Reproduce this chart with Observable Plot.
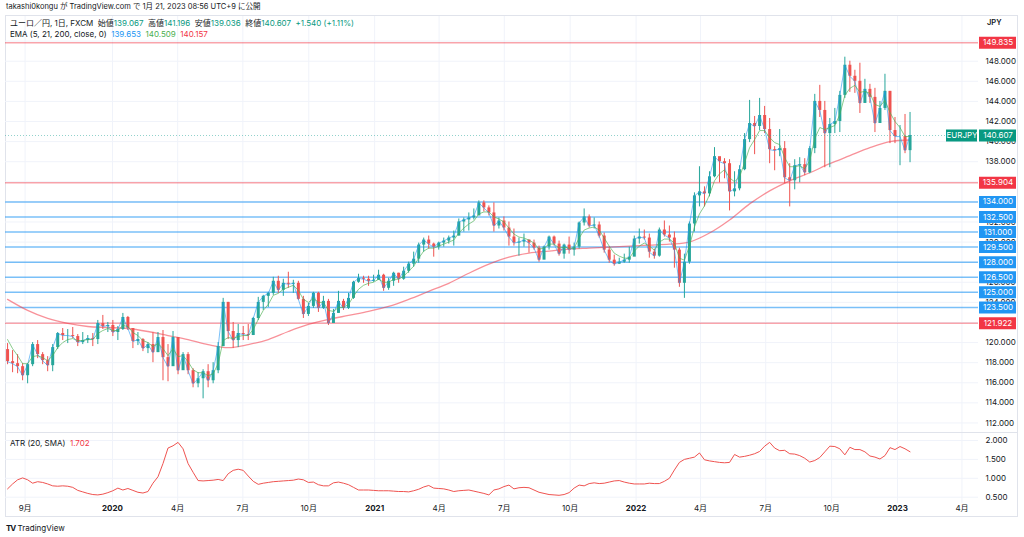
<!DOCTYPE html>
<html><head><meta charset="utf-8">
<script src="https://cdn.jsdelivr.net/npm/d3@7"></script>
<script src="https://cdn.jsdelivr.net/npm/@observablehq/plot@0.6"></script>
<style>
body{margin:0;background:#fff;font-family:Inter,"Noto Sans CJK JP",sans-serif;color:#131722;}
#root{position:relative;width:1024px;height:537px;overflow:hidden;}
.abs{position:absolute;white-space:nowrap;line-height:1;}
.g{color:#089981}
</style></head><body><div id="root"></div>
<script>
// ---- data (weekly) ----
const startMonday = "2019-08-05";
const endDate = "2023-01-21";
const firstOpen = 119.3;
const highs = [119.9,119.2,118.8,117.9,117.9,120.0,120.2,119.0,118.6,119.8,
121.0,121.4,121.3,121.5,120.8,121.0,120.7,120.9,122.2,122.7,
122.0,122.2,121.6,122.9,122.6,121.3,121.0,120.4,120.0,121.0,
121.0,121.2,119.8,121.1,120.5,119.0,119.0,117.4,117.0,117.3,
117.8,118.0,120.0,124.4,124.0,122.0,121.8,121.6,121.8,122.5,
124.5,124.7,125.0,126.5,126.6,126.3,127.0,126.2,126.1,124.6,
123.9,125.0,125.0,124.6,124.3,123.3,125.1,124.3,124.9,126.1,
126.8,126.6,126.6,126.7,127.2,126.8,126.4,127.0,126.9,127.5,
128.0,129.0,129.9,130.4,130.6,129.9,130.0,130.4,130.6,131.1,
132.3,132.4,132.9,133.3,134.1,134.1,133.6,133.9,132.4,132.5,
132.0,131.3,130.4,130.8,130.2,130.2,129.6,129.6,130.6,130.6,
130.1,129.8,130.5,129.9,132.0,133.3,132.7,132.4,132.0,130.9,
129.5,128.7,128.4,128.8,129.5,130.6,131.3,131.2,130.8,129.3,
131.4,132.1,131.6,131.0,129.4,128.8,132.0,134.9,137.5,135.5,
137.0,139.4,138.4,138.3,138.2,137.0,137.6,140.8,144.1,142.5,
144.3,143.5,142.3,139.5,141.2,140.0,137.8,138.2,138.4,138.3,
139.5,144.7,145.6,144.0,142.3,143.3,145.0,148.4,148.0,147.1,
147.8,146.2,145.7,145.3,144.0,146.7,145.0,142.4,141.6,142.7,
142.9];
const lows = [117.8,117.0,116.9,116.2,115.9,117.6,118.4,117.8,117.1,117.1,
119.3,120.2,119.9,120.4,119.6,119.8,119.9,119.6,119.8,121.3,
121.0,120.6,120.2,121.2,121.2,119.4,119.7,119.1,118.9,118.0,
119.0,116.2,116.1,117.8,116.8,117.3,116.8,115.5,115.5,114.4,
115.5,115.9,116.9,119.6,120.3,119.4,119.5,120.2,120.2,121.0,
122.2,123.2,123.5,124.7,124.9,124.6,125.4,124.9,124.2,122.4,
122.6,123.4,123.0,123.3,121.7,121.9,122.9,123.2,123.3,124.3,
125.9,125.9,125.6,126.0,126.2,125.1,125.2,125.6,125.9,126.2,
126.9,127.5,127.9,129.0,129.3,128.5,129.2,129.5,129.8,129.6,
130.6,131.0,131.1,132.2,132.7,133.0,132.6,131.0,131.3,131.1,
129.6,129.6,128.6,129.5,128.9,129.2,128.0,128.3,129.2,129.6,
128.6,128.3,128.8,128.6,129.3,131.6,131.4,131.3,130.4,128.9,
127.9,127.6,127.8,127.9,127.9,128.6,129.8,130.2,128.4,128.3,
128.5,130.5,130.0,127.4,125.5,124.4,127.8,131.0,133.5,133.5,
134.5,136.4,135.9,136.3,133.1,134.5,135.1,137.1,139.9,138.7,
141.1,140.8,137.8,137.1,138.5,135.8,133.5,135.2,135.9,136.6,
136.8,138.8,142.4,137.4,137.4,140.8,140.9,144.3,144.9,144.8,
142.8,143.8,143.8,140.9,141.9,143.1,139.8,139.8,137.6,138.8,
137.9];
const closes = [118.1,117.9,117.6,116.7,117.8,119.8,118.8,118.2,117.7,119.5,
120.9,120.7,120.7,120.6,120.0,120.2,120.4,120.3,121.9,121.6,
121.7,121.0,121.3,122.5,121.4,120.1,120.3,119.4,119.8,119.0,
120.5,118.5,117.6,120.5,117.2,118.8,117.2,115.9,116.4,117.1,
116.2,117.2,119.6,124.0,121.1,120.2,120.9,120.8,120.7,122.4,
124.0,124.6,124.9,126.1,125.2,125.9,125.8,125.9,124.3,122.8,
123.6,124.9,123.4,124.1,121.9,122.9,124.1,123.4,124.4,126.0,
126.4,126.3,126.1,126.2,126.7,125.4,126.1,126.9,126.3,127.1,
127.8,128.3,129.7,130.2,129.8,129.5,129.9,130.1,130.4,130.6,
132.0,132.2,132.4,132.6,133.9,133.4,132.9,131.6,132.1,131.4,
130.5,129.9,130.0,130.2,129.9,129.4,128.2,129.5,130.5,129.8,
128.8,129.7,129.2,129.5,131.9,132.5,131.6,131.7,130.6,129.2,
128.2,127.8,128.0,128.2,128.5,130.3,130.5,130.4,129.0,128.6,
131.2,130.7,130.4,129.2,125.9,128.0,131.8,134.6,135.0,134.8,
136.5,138.5,138.0,137.8,135.0,135.3,137.2,140.2,141.8,141.5,
142.6,141.2,139.2,139.1,139.3,136.4,136.1,137.6,137.7,136.9,
139.3,144.0,143.1,140.8,141.7,142.0,144.6,147.6,146.5,146.0,
143.8,145.2,144.4,141.8,143.3,145.0,141.1,140.5,140.5,139.1,
140.607];
const ema21 = [120.3,119.4,118.7,117.9,117.9,118.6,118.7,118.5,118.2,118.7,
119.5,120.0,120.3,120.4,120.2,120.2,120.3,120.3,120.9,121.2,
121.4,121.2,121.2,121.7,121.6,121.0,120.7,120.2,120.0,119.6,
119.9,119.4,118.7,119.4,118.6,118.7,118.1,117.3,117.0,117.0,
116.7,116.9,117.9,120.2,120.5,120.4,120.6,120.7,120.7,121.3,
122.3,123.2,123.8,124.7,124.9,125.3,125.5,125.7,125.2,124.3,
124.0,124.4,124.0,124.0,123.2,123.1,123.5,123.5,123.8,124.6,
125.3,125.7,125.9,126.0,126.3,126.0,126.0,126.3,126.3,126.6,
127.1,127.6,128.4,129.1,129.4,129.4,129.6,129.8,130.0,130.2,
130.9,131.4,131.8,132.1,132.8,133.0,133.0,132.5,132.3,132.0,
131.4,130.8,130.5,130.4,130.2,129.9,129.3,129.4,129.8,129.8,
129.4,129.5,129.4,129.4,130.4,131.2,131.4,131.5,131.2,130.4,
129.6,128.9,128.6,128.4,128.4,129.1,129.6,129.9,129.6,129.2,
130.0,130.3,130.3,129.9,128.4,128.2,129.6,131.5,132.8,133.6,
134.7,136.1,136.8,137.2,136.4,136.0,136.5,137.9,139.4,140.2,
141.1,141.1,140.4,139.9,139.7,138.4,137.5,137.5,137.6,137.3,
138.1,140.3,141.4,141.2,141.4,141.6,142.7,144.6,145.3,145.6,
144.9,145.0,144.8,143.7,143.5,144.1,142.9,142.0,141.4,140.5,
140.509];
// EMA 200, one reading every 4 weeks
const ema200Every4 = [124.3,123.2,122.4,121.9,121.6,121.5,121.4,121.1,120.7,120.3,
119.8,119.5,119.8,120.3,121.1,121.8,122.3,122.7,123.1,123.6,
124.3,125.1,125.9,126.9,127.8,128.5,128.9,129.1,129.3,129.4,
129.5,129.6,129.7,129.8,130.0,130.9,132.2,133.8,135.1,136.1,
136.9,137.8,138.6,139.4,140.0,140.157];
const atr = [0.72,0.85,0.96,1.01,0.96,0.87,0.91,0.89,0.85,0.80,
0.79,0.80,0.79,0.76,0.68,0.64,0.60,0.57,0.56,0.58,
0.62,0.67,0.74,0.69,0.73,0.68,0.63,0.61,0.65,0.87,
1.04,1.39,1.80,1.86,1.95,1.78,1.39,1.16,0.94,0.93,
0.94,0.95,0.97,0.94,1.12,1.21,1.24,1.21,1.06,0.92,
0.84,0.87,0.89,0.91,0.92,0.93,0.94,0.95,0.98,0.96,
0.89,0.90,0.83,0.80,0.80,0.88,0.90,0.87,0.83,0.76,
0.69,0.69,0.69,0.68,0.67,0.67,0.67,0.66,0.65,0.65,
0.64,0.67,0.71,0.77,0.81,0.74,0.73,0.72,0.69,0.65,
0.67,0.68,0.69,0.66,0.63,0.60,0.56,0.69,0.72,0.78,
0.82,0.72,0.75,0.76,0.75,0.69,0.63,0.60,0.57,0.56,
0.55,0.57,0.62,0.74,0.82,0.80,0.86,0.88,0.86,0.87,
0.90,0.93,0.94,0.90,0.87,0.85,0.85,0.85,0.87,0.86,
0.86,0.92,1.00,1.22,1.42,1.50,1.53,1.56,1.67,1.49,
1.46,1.44,1.42,1.41,1.42,1.63,1.56,1.58,1.61,1.65,
1.71,1.85,1.95,1.80,1.73,1.74,1.65,1.64,1.60,1.53,
1.43,1.47,1.55,1.70,1.85,1.84,1.78,1.62,1.82,1.76,
1.76,1.70,1.59,1.56,1.51,1.60,1.81,1.76,1.84,1.78,
1.702];
const blueLevels = [134, 132.5, 131, 129.5, 128, 126.5, 125, 123.5];
const redLevels = [149.835, 135.904, 121.922];
// price labels shown on the axis (those fully covered by level labels are omitted)
const priceTicks = [112,114,116,118,120,124,126,130,132,138,140,142,144,146,148];
const priceGrid = [112,114,116,118,120,122,124,126,128,130,132,134,136,138,140,142,144,146,148,150];
const atrTicks = [0.5, 1.0, 1.5, 2.0];
const timeTickDates = ["2019-09-01","2020-01-01","2020-04-01","2020-07-01","2020-10-01","2021-01-01","2021-04-01","2021-07-01","2021-10-01","2022-01-01","2022-04-01","2022-07-01","2022-10-01","2023-01-01","2023-04-01"];
const timeTickLabels = ["9月","2020","4月","7月","10月","2021","4月","7月","10月","2022","4月","7月","10月","2023","4月"];
const lastClose = 140.607;

// ---- build ----
const UP = "#26a69a", DOWN = "#ef5350";
const day = 864e5, t2020 = Date.UTC(2020,0,1), pxPerDay = 785/1096;
const px2date = px => new Date(t2020 + (px - 112) / pxPerDay * day);
const xDomain = [px2date(5), px2date(978)];
const mondays = d3.utcMonday.range(new Date(startMonday), new Date(endDate));
const weeks = mondays.map((m, i) => {
  const open = i === 0 ? firstOpen : closes[i-1];
  return {date: new Date(+m + 2.5*day), open, high: highs[i], low: lows[i], close: closes[i],
          up: closes[i] >= open, ema21: ema21[i], atr: atr[i]};
});
const ema200Data = ema200Every4.map((v, k) => ({date: weeks[Math.min(k*4, weeks.length-1)].date, v}));
const ticks = timeTickDates.map((d, i) => ({date: new Date(d), label: timeTickLabels[i], year: /^\d{4}$/.test(timeTickLabels[i])}));
const FONT = "Inter, 'Noto Sans CJK JP', sans-serif";

const price = Plot.plot({
  width: 1013, height: 416, marginLeft: 0, marginRight: 40, marginTop: 0, marginBottom: 0,
  style: {background: "transparent", fontFamily: FONT, fontSize: "8px", overflow: "visible", color: "#131722"},
  x: {type: "utc", domain: xDomain, axis: null},
  y: {domain: [111.05, 152.45], axis: null},
  marks: [
    Plot.ruleY(priceGrid, {stroke: "#f0f3fa"}),
    Plot.ruleX(ticks, {x: "date", stroke: "#f0f3fa"}),
    Plot.ruleY(blueLevels, {stroke: "#2196f3", strokeOpacity: 0.6, strokeWidth: 1.5}),
    Plot.ruleY(redLevels, {stroke: "#f23645", strokeOpacity: 0.45, strokeWidth: 1.5}),
    Plot.line(ema200Data, {x: "date", y: "v", stroke: "#f23645", strokeOpacity: 0.55, strokeWidth: 1.3, curve: "catmull-rom"}),
    Plot.ruleX(weeks, {x: "date", y1: "low", y2: "high", stroke: d => d.up ? UP : DOWN, strokeWidth: 1}),
    Plot.ruleX(weeks, {x: "date", y1: "open", y2: "close", stroke: d => d.up ? UP : DOWN, strokeWidth: 3}),
    Plot.line(weeks, {x: "date", y: "close", stroke: "#2196f3", strokeOpacity: 0.6, strokeWidth: 1}),
    Plot.line(weeks, {x: "date", y: "ema21", stroke: "#4caf50", strokeOpacity: 0.65, strokeWidth: 1}),
    Plot.ruleY([lastClose], {x1: () => xDomain[0], x2: () => px2date(946), stroke: UP, strokeDasharray: "1,2", strokeOpacity: 0.5}),
    Plot.text(priceTicks, {x: () => px2date(985), y: d => d, text: d => d.toFixed(3), textAnchor: "start", fill: "#131722"}),
    Plot.ruleY(blueLevels, {x1: () => px2date(979), x2: () => px2date(1016), stroke: "#2196f3", strokeWidth: 12}),
    Plot.ruleY(redLevels, {x1: () => px2date(979), x2: () => px2date(1016), stroke: "#f23645", strokeWidth: 12}),
    Plot.ruleY([lastClose], {x1: () => px2date(979), x2: () => px2date(1016), stroke: "#089981", strokeWidth: 12}),
    Plot.ruleY([lastClose], {x1: () => px2date(946), x2: () => px2date(977), stroke: "#089981", strokeWidth: 12}),
    Plot.text([...blueLevels, ...redLevels, lastClose], {x: () => px2date(997.5), y: d => d, text: d => d.toFixed(3), fill: "white"}),
    Plot.text([lastClose], {x: () => px2date(961.5), y: d => d, text: () => "EURJPY", fill: "white"})
  ]
});

const atrPlot = Plot.plot({
  width: 1013, height: 84, marginLeft: 0, marginRight: 40, marginTop: 0, marginBottom: 14,
  style: {background: "transparent", fontFamily: FONT, fontSize: "8px", overflow: "visible", color: "#131722"},
  x: {type: "utc", domain: xDomain, axis: null},
  y: {domain: [0.333, 2.185], axis: null},
  marks: [
    Plot.ruleY(atrTicks, {stroke: "#f0f3fa"}),
    Plot.ruleX(ticks, {x: "date", stroke: "#f0f3fa"}),
    Plot.line(weeks, {x: "date", y: "atr", stroke: "#ef5350", strokeWidth: 1}),
    Plot.text(atrTicks, {x: () => px2date(985), y: d => d, text: d => d.toFixed(3), textAnchor: "start", fill: "#131722"}),
    Plot.text(ticks.filter(t => !t.year), {x: "date", text: "label", frameAnchor: "bottom", dy: 7, fill: "#131722"}),
    Plot.text(ticks.filter(t => t.year), {x: "date", text: "label", frameAnchor: "bottom", dy: 7, fill: "#131722", fontWeight: "bold"})
  ]
});

const root = document.getElementById("root");
function add(html, css) { const d = document.createElement("div"); d.className = "abs"; d.style.cssText = css; d.innerHTML = html; root.appendChild(d); return d; }
add("", "left:5px;top:15px;width:1013px;height:502px;border:1px solid #e0e3eb;box-sizing:border-box;");
add("", "left:5px;top:432px;width:1013px;height:1px;background:#e0e3eb;");
const p1 = document.createElement("div"); p1.style.cssText = "position:absolute;left:5px;top:16px;"; p1.appendChild(price); root.appendChild(p1);
const p2 = document.createElement("div"); p2.style.cssText = "position:absolute;left:5px;top:433px;"; p2.appendChild(atrPlot); root.appendChild(p2);
add("takashi0kongu が TradingView.com で 1月 21, 2023 08:56 UTC+9 に公開", "left:6px;top:3px;font-size:7.5px;");
add('ユーロ／円, 1日, FXCM&nbsp; 始値<span class="g">139.067</span>&nbsp; 高値<span class="g">141.196</span>&nbsp; 安値<span class="g">139.036</span>&nbsp; 終値<span class="g">140.607</span>&nbsp; <span class="g">+1.540 (+1.11%)</span>', "left:10px;top:18.5px;font-size:8px;");
add('EMA (5, 21, 200, close, 0)&nbsp; <span style="color:#2196f3">139.653</span>&nbsp; <span style="color:#4caf50">140.509</span>&nbsp; <span style="color:#f23645">140.157</span>', "left:10px;top:29.5px;font-size:8px;");
add("JPY", "left:987px;top:18.5px;font-size:7.5px;font-weight:600;");
add('ATR (20, SMA)&nbsp; <span style="color:#f23645">1.702</span>', "left:10px;top:438.5px;font-size:8px;");
add('<b style="font-size:8px;letter-spacing:-1px">TV</b>&nbsp;TradingView', "left:6px;top:524px;font-size:8px;");
</script></body></html>
